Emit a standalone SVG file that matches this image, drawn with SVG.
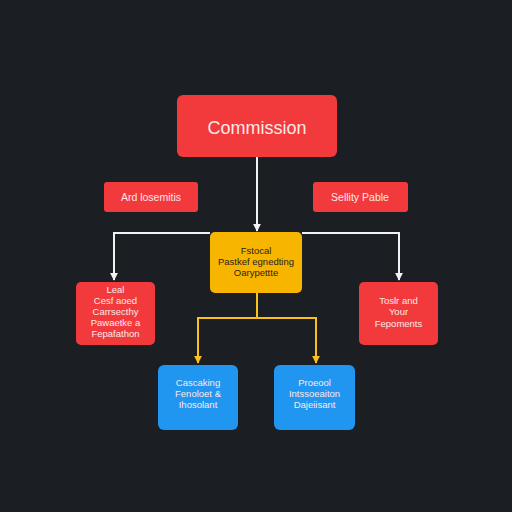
<svg xmlns="http://www.w3.org/2000/svg" width="512" height="512" viewBox="0 0 512 512">
<style>
.red{fill:#f23a3c}
.yel{fill:#f8b500}
.blu{fill:#2196f0}
.t{font-family:"Liberation Sans",Arial,sans-serif;text-anchor:middle;fill:#fbe9e9}
.s{font-size:10.5px}
.b{font-size:9.5px}
.dk{fill:#2a2418}
.wl{stroke:#f2f2f2;stroke-width:2;fill:none}
.yl{stroke:#f8c21a;stroke-width:2;fill:none}
</style>
<defs>
<marker id="aw" viewBox="0 0 10 10" refX="9" refY="5" markerWidth="4" markerHeight="4" orient="auto"><path d="M0,0L10,5L0,10z" fill="#f2f2f2"/></marker>
<marker id="ay" viewBox="0 0 10 10" refX="9" refY="5" markerWidth="4" markerHeight="4" orient="auto"><path d="M0,0L10,5L0,10z" fill="#f8c21a"/></marker>
</defs>
<rect width="512" height="512" fill="#1b1e23"/>
<g id="connectors">
<path class="wl" d="M257,157V231" marker-end="url(#aw)"/>
<path class="wl" d="M210,233H114V280" marker-end="url(#aw)"/>
<path class="wl" d="M302,233H399V280" marker-end="url(#aw)"/>
<path class="yl" d="M257,293V318H198V363" marker-end="url(#ay)"/>
<path class="yl" d="M257,318H316V363" marker-end="url(#ay)"/>
</g>
<g id="commission">
<rect class="red" x="177" y="95" width="160" height="62" rx="6"/>
<text class="t" x="257" y="134" font-size="18">Commission</text>
</g>
<g id="ard">
<rect class="red" x="104" y="182" width="94" height="30" rx="3"/>
<text class="t s" x="151" y="201">Ard losemitis</text>
</g>
<g id="sellity">
<rect class="red" x="313" y="182" width="95" height="30" rx="3"/>
<text class="t s" x="360" y="201">Sellity Pable</text>
</g>
<g id="center">
<rect class="yel" x="210" y="232" width="92" height="61" rx="5"/>
<text class="t b dk" x="256" y="254">Fstocal</text>
<text class="t b dk" x="256" y="265">Pastkef egnedting</text>
<text class="t b dk" x="256" y="276">Oarypettte</text>
</g>
<g id="left">
<rect class="red" x="76" y="282" width="79" height="63" rx="5"/>
<text class="t b" x="115.5" y="293">Leal</text>
<text class="t b" x="115.5" y="304">Cesf aoed</text>
<text class="t b" x="115.5" y="315">Carrsecthy</text>
<text class="t b" x="115.5" y="326">Pawaetke a</text>
<text class="t b" x="115.5" y="337">Fepafathon</text>
</g>
<g id="right">
<rect class="red" x="359" y="282" width="79" height="63" rx="5"/>
<text class="t b" x="398.5" y="304">Toslr and</text>
<text class="t b" x="398.5" y="315">Your</text>
<text class="t b" x="398.5" y="327">Fepoments</text>
</g>
<g id="blue1">
<rect class="blu" x="158" y="365" width="80" height="65" rx="6"/>
<text class="t b" x="198" y="386">Cascaking</text>
<text class="t b" x="198" y="397">Fenoloet &amp;</text>
<text class="t b" x="198" y="408">Ihosolant</text>
</g>
<g id="blue2">
<rect class="blu" x="274" y="365" width="81" height="65" rx="6"/>
<text class="t b" x="314.5" y="386">Proeool</text>
<text class="t b" x="314.5" y="397">Intssoeaiton</text>
<text class="t b" x="314.5" y="408">Dajeiisant</text>
</g>
</svg>
